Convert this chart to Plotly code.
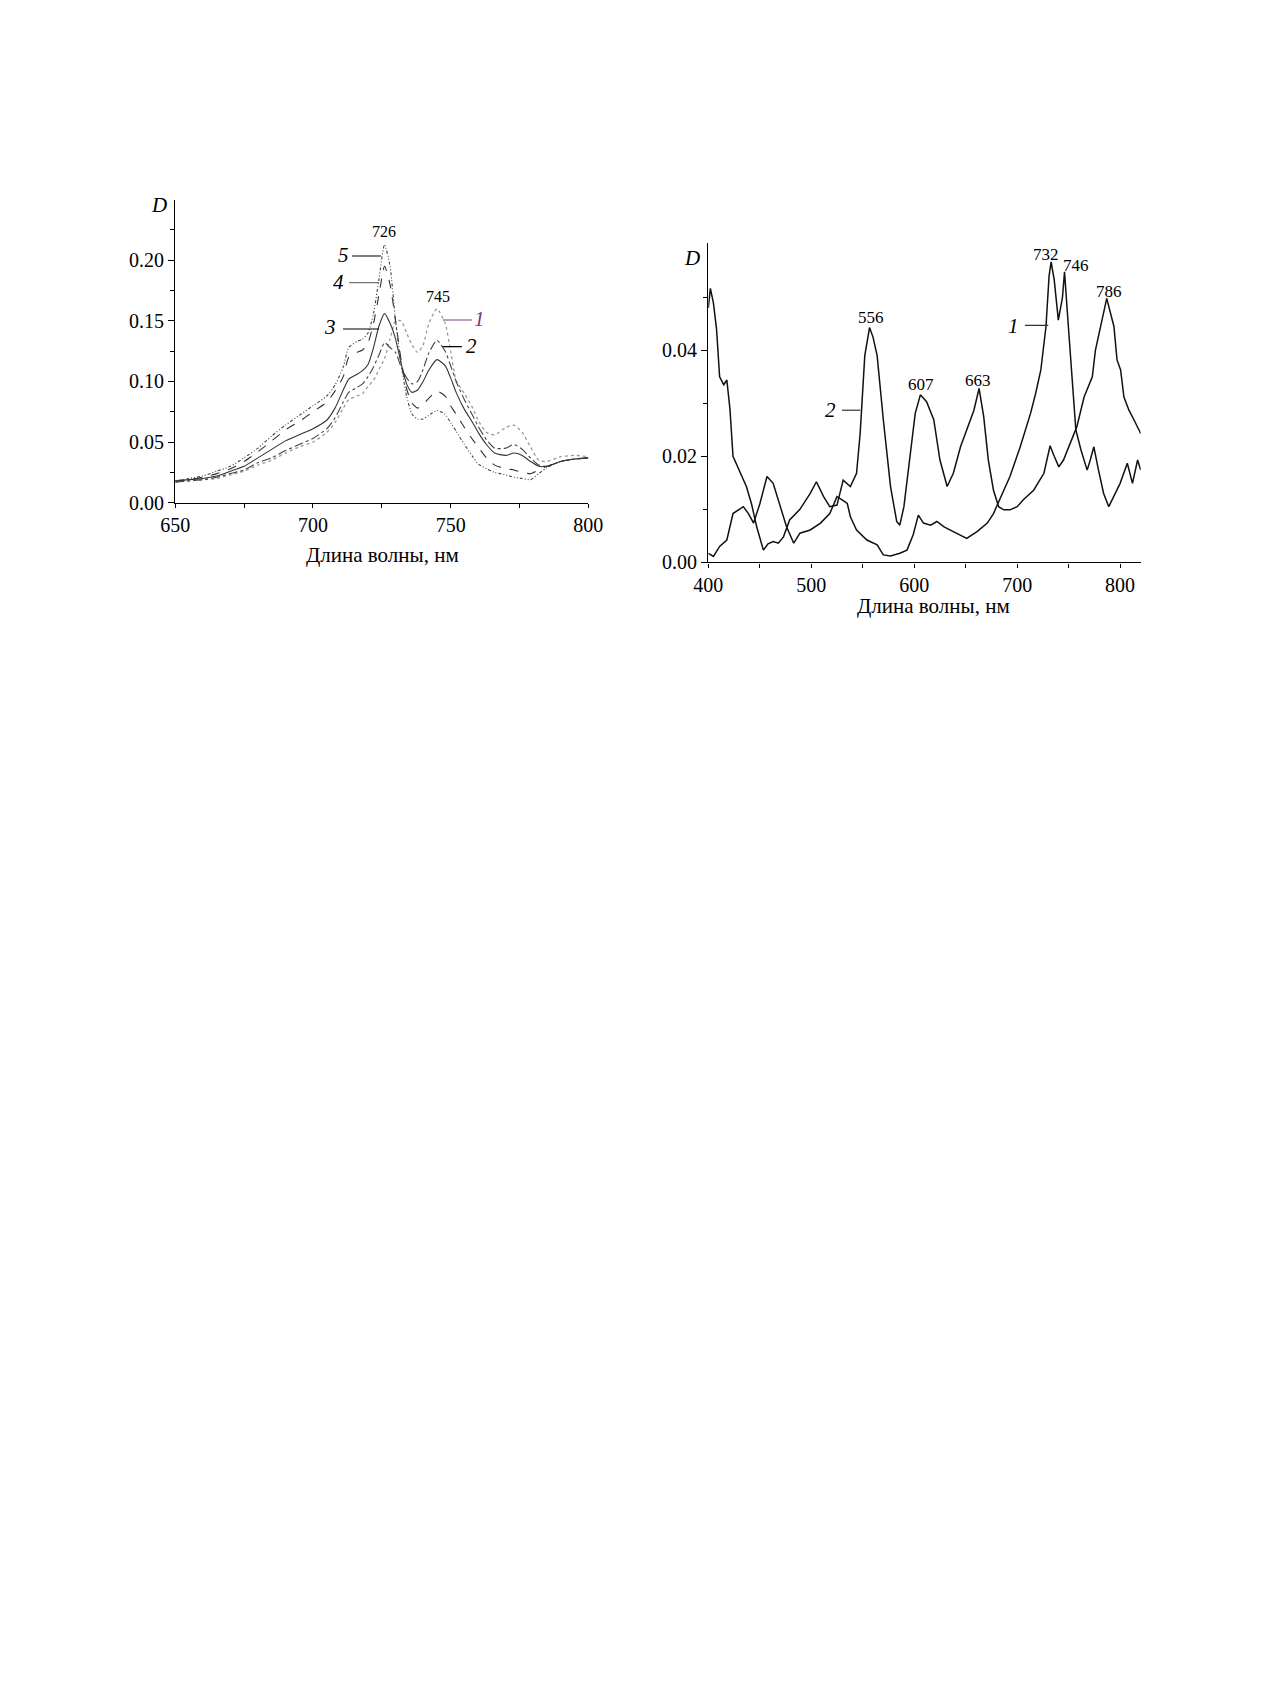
import plotly.graph_objects as go

# ---------------- Left panel data (wavelength, nm / optical density D) ----------------
left_x = [650, 655, 660, 665, 670, 675, 680, 685, 690, 695, 700, 705, 708, 711, 713, 716, 718, 720,
          722, 724, 726, 728, 730, 732, 734, 736, 738, 740, 742, 745, 748, 750, 752, 755, 758, 760,
          763, 766, 770, 773, 776, 779, 782, 785, 790, 795, 800]

left_c1 = [0.017, 0.018, 0.019, 0.020, 0.023, 0.026, 0.031, 0.035, 0.041, 0.046, 0.050, 0.058, 0.066,
           0.078, 0.085, 0.088, 0.090, 0.096, 0.101, 0.110, 0.119, 0.135, 0.150, 0.150, 0.140, 0.130,
           0.124, 0.130, 0.147, 0.160, 0.148, 0.125, 0.101, 0.090, 0.078, 0.068, 0.058, 0.056, 0.062,
           0.064, 0.058, 0.046, 0.035, 0.034, 0.038, 0.039, 0.038]
left_c2 = [0.017, 0.018, 0.019, 0.021, 0.024, 0.027, 0.033, 0.037, 0.043, 0.048, 0.053, 0.061, 0.070,
           0.083, 0.091, 0.095, 0.098, 0.104, 0.112, 0.122, 0.132, 0.128, 0.124, 0.112, 0.103, 0.098,
           0.100, 0.110, 0.123, 0.134, 0.125, 0.113, 0.100, 0.085, 0.072, 0.063, 0.052, 0.045, 0.045,
           0.048, 0.044, 0.037, 0.031, 0.030, 0.034, 0.036, 0.037]
left_c3 = [0.018, 0.019, 0.020, 0.022, 0.026, 0.030, 0.037, 0.044, 0.051, 0.056, 0.061, 0.068, 0.078,
           0.093, 0.102, 0.106, 0.109, 0.114, 0.128, 0.146, 0.156, 0.148, 0.135, 0.115, 0.098, 0.091,
           0.093, 0.100, 0.109, 0.118, 0.113, 0.103, 0.091, 0.077, 0.066, 0.058, 0.048, 0.041, 0.039,
           0.041, 0.039, 0.034, 0.030, 0.030, 0.034, 0.036, 0.037]
left_c4 = [0.018, 0.019, 0.021, 0.024, 0.028, 0.034, 0.042, 0.051, 0.060, 0.067, 0.075, 0.083, 0.092,
           0.104, 0.120, 0.124, 0.126, 0.132, 0.148, 0.172, 0.195, 0.180, 0.150, 0.118, 0.094, 0.082,
           0.078, 0.081, 0.086, 0.092, 0.088, 0.080, 0.073, 0.062, 0.052, 0.046, 0.037, 0.031, 0.028,
           0.027, 0.025, 0.024, 0.027, 0.030, 0.034, 0.036, 0.037]
left_c5 = [0.018, 0.020, 0.022, 0.026, 0.030, 0.037, 0.045, 0.055, 0.064, 0.072, 0.080, 0.088, 0.097,
           0.112, 0.128, 0.133, 0.135, 0.140, 0.156, 0.185, 0.213, 0.195, 0.150, 0.115, 0.088, 0.073,
           0.069, 0.069, 0.072, 0.076, 0.073, 0.066, 0.059, 0.048, 0.038, 0.032, 0.028, 0.025, 0.023,
           0.021, 0.020, 0.019, 0.024, 0.029, 0.034, 0.036, 0.037]

# ---------------- Right panel data ----------------
right1_x = [400, 405, 411, 418, 424, 429, 434, 439, 444, 450, 457, 463, 470, 476, 483, 489, 499, 509,
            518, 525, 530, 535, 538, 544, 554, 564, 570, 577, 586, 593, 599, 604, 609, 616, 622, 629,
            638, 651, 661, 671, 677, 684, 693, 703, 713, 718, 723, 728, 731, 733, 736, 740, 744, 746,
            748, 750, 753.5, 757, 762, 768, 771, 774.5, 779, 784, 789, 794, 800, 807, 812, 817, 820]
right1_y = [0.0017, 0.0011, 0.0030, 0.0042, 0.0092, 0.0099, 0.0105, 0.0092, 0.0074, 0.0110, 0.0162,
            0.0149, 0.0105, 0.0067, 0.0036, 0.0055, 0.0061, 0.0074, 0.0092, 0.0124, 0.0118, 0.0111,
            0.0086, 0.0061, 0.0042, 0.0033, 0.0014, 0.0012, 0.0017, 0.0023, 0.0052, 0.0089, 0.0074,
            0.0070, 0.0077, 0.0067, 0.0058, 0.0045, 0.0058, 0.0074, 0.0092, 0.0124, 0.0162, 0.0218,
            0.0281, 0.0319, 0.0363, 0.0445, 0.0540, 0.0567, 0.0533, 0.0457, 0.0500, 0.0548, 0.0500,
            0.0438, 0.0344, 0.0250, 0.0212, 0.0174, 0.0193, 0.0218, 0.0174, 0.0130, 0.0105, 0.0124,
            0.0149, 0.0187, 0.0149, 0.0193, 0.0174]

right2_x = [400, 402, 405, 408, 411, 415, 418, 421, 424, 431, 437, 442, 447, 453.5, 458, 463, 468, 473,
            479, 489, 499, 505, 512, 518, 525, 531, 538, 544, 547.5, 552, 556.6, 560, 564, 570, 577,
            583, 586, 590, 596, 601, 606, 612, 619, 625, 632, 638, 645, 651, 658, 663, 667.5, 672, 677,
            682, 687, 693, 700, 706, 716, 726, 732, 736, 740.5, 745, 752, 758, 765, 773, 776, 781, 787,
            790.7, 794, 797, 800.5, 803.7, 808.6, 813.4, 820]
right2_y = [0.0480, 0.0517, 0.0489, 0.0440, 0.0350, 0.0335, 0.0344, 0.0290, 0.0200, 0.0168, 0.0143,
            0.0110, 0.0067, 0.0023, 0.0035, 0.0039, 0.0036, 0.0048, 0.0080, 0.0100, 0.0130, 0.0152,
            0.0124, 0.0105, 0.0108, 0.0155, 0.0143, 0.0168, 0.0243, 0.0390, 0.0443, 0.0425, 0.0390,
            0.0269, 0.0143, 0.0077, 0.0070, 0.0105, 0.0206, 0.0281, 0.0316, 0.0303, 0.0269, 0.0193,
            0.0143, 0.0168, 0.0218, 0.0250, 0.0287, 0.0328, 0.0275, 0.0193, 0.0136, 0.0105, 0.0099,
            0.0099, 0.0105, 0.0118, 0.0136, 0.0168, 0.0220, 0.0200, 0.0180, 0.0193, 0.0225, 0.0256,
            0.0312, 0.0350, 0.0400, 0.0445, 0.0498, 0.0470, 0.0445, 0.0382, 0.0363, 0.0312, 0.0287,
            0.0269, 0.0243]

left_peaks = [("726", 725.8, 0.2233), ("745", 745.4, 0.1697)]
right_peaks = [("556", 558.0, 0.0462), ("607", 606.9, 0.0336), ("663", 661.7, 0.0344),
               ("732", 727.6, 0.0581), ("746", 756.7, 0.0560), ("786", 789.1, 0.0511)]

FONT = "Liberation Serif"
W, H = 1270, 1683
OFF = 8  # page body margin offset in the browser


def fx(px):
    return (px - OFF) / W


def fy(py):
    return 1 - (py - OFF) / H


fig = go.Figure()

left_styles = [
    (left_c1, "1", "dot", "#9a9a9a", 1.3),
    (left_c2, "2", "dashdot", "#444444", 1.1),
    (left_c3, "3", "solid", "#333333", 1.1),
    (left_c4, "4", "dash", "#333333", 1.1),
    (left_c5, "5", "3px,2px,1px,2px,1px,2px", "#444444", 1.1),
]
for ys, name, dash, col, w in left_styles:
    fig.add_trace(go.Scatter(x=left_x, y=ys, mode="lines", name=name, xaxis="x", yaxis="y",
                             line=dict(color=col, width=w, dash=dash, shape="spline", smoothing=0.6),
                             showlegend=False))

for ys, xs, name in [(right1_y, right1_x, "1"), (right2_y, right2_x, "2")]:
    fig.add_trace(go.Scatter(x=xs, y=ys, mode="lines", name=name, xaxis="x2", yaxis="y2",
                             line=dict(color="#111111", width=1.5), showlegend=False))

axis_common = dict(showline=True, linecolor="black", linewidth=1.4, showgrid=False, zeroline=False,
                   automargin=False, ticks="outside", tickwidth=1.2, tickcolor="black",
                   tickfont=dict(family=FONT, size=20, color="black"))

fig.update_layout(
    template="none",
    width=W, height=H, margin=dict(l=0, r=0, t=0, b=0, pad=0), autosize=False,
    paper_bgcolor="white", plot_bgcolor="white",
    xaxis=dict(domain=[fx(175.3), fx(588.3)], range=[650, 800], anchor="y",
               tickvals=[650, 700, 750, 800], ticklen=4,
               minor=dict(tickvals=[675, 725, 775], ticks="outside", ticklen=4, tickcolor="black"),
               **axis_common),
    yaxis=dict(domain=[fy(502.7), fy(200)], range=[0, 0.2497], anchor="x",
               tickvals=[0, 0.05, 0.10, 0.15, 0.20], tickformat=".2f", ticklen=6,
               minor=dict(tickvals=[0.025, 0.075, 0.125, 0.175, 0.225], ticks="outside", ticklen=4,
                          tickcolor="black"),
               **axis_common),
    xaxis2=dict(domain=[fx(708.3), fx(1140.7)], range=[400, 820], anchor="y2",
                tickvals=[400, 500, 600, 700, 800], ticklen=4,
                minor=dict(tickvals=[450, 550, 650, 750], ticks="outside", ticklen=4, tickcolor="black"),
                **axis_common),
    yaxis2=dict(domain=[fy(562.3), fy(243.3)], range=[0, 0.0602], anchor="x2",
                tickvals=[0, 0.02, 0.04], tickformat=".2f", ticklen=6,
                minor=dict(tickvals=[0.01, 0.03, 0.05], ticks="outside", ticklen=4, tickcolor="black"),
                **axis_common),
)

ann = []
txt = dict(family=FONT, color="black")
C = dict(xanchor="center", yanchor="middle", showarrow=False)
for t, x, y in left_peaks:
    ann.append(dict(text=t, x=x, y=y, xref="x", yref="y", font=dict(size=16, **txt), **C))
for t, x, y in right_peaks:
    ann.append(dict(text=t, x=x, y=y, xref="x2", yref="y2", font=dict(size=17, **txt), **C))

# curve number labels (italic) and leader lines
left_labels = [("5", 711.2, 0.2044, 714.2, 724.7, 0.2035, "black"),
               ("4", 709.1, 0.1820, 713.1, 724.0, 0.1815, "#777777"),
               ("3", 706.2, 0.1450, 710.9, 724.0, 0.1433, "black"),
               ("1", 760.6, 0.1516, 747.2, 757.7, 0.1507, "#7a3a78"),
               ("2", 757.4, 0.1293, 747.2, 754.1, 0.1287, "black")]
shapes = []
for t, tx, ty, x0, x1, ly, col in left_labels:
    tcol = "#7a3a78" if t == "1" else "black"
    ann.append(dict(text="<i>%s</i>" % t, x=tx, y=ty, xref="x", yref="y",
                    font=dict(family=FONT, size=21, color=tcol), **C))
    shapes.append(dict(type="line", x0=x0, x1=x1, y0=ly, y1=ly, xref="x", yref="y",
                       line=dict(color=col, width=1.2)))

right_labels = [("1", 696.7, 0.0445, 707.5, 730.2, 0.0447),
                ("2", 518.4, 0.0287, 529.8, 547.6, 0.0287)]
for t, tx, ty, x0, x1, ly in right_labels:
    ann.append(dict(text="<i>%s</i>" % t, x=tx, y=ty, xref="x2", yref="y2",
                    font=dict(family=FONT, size=21, color="black"), **C))
    shapes.append(dict(type="line", x0=x0, x1=x1, y0=ly, y1=ly, xref="x2", yref="y2",
                       line=dict(color="#333333", width=1.2)))

# axis "D" labels and x titles
ann.append(dict(text="<i>D</i>", x=fx(159), y=fy(205), xref="paper", yref="paper",
                font=dict(family=FONT, size=21, color="black"), **C))
ann.append(dict(text="<i>D</i>", x=fx(692), y=fy(258), xref="paper", yref="paper",
                font=dict(family=FONT, size=21, color="black"), **C))
ann.append(dict(text="Длина волны, нм", x=fx(383), y=fy(555), xref="paper", yref="paper",
                font=dict(family=FONT, size=21, color="black"), **C))
ann.append(dict(text="Длина волны, нм", x=fx(933), y=fy(606), xref="paper", yref="paper",
                font=dict(family=FONT, size=21, color="black"), **C))

fig.update_layout(annotations=ann, shapes=shapes)
fig.write_html("out.html")
